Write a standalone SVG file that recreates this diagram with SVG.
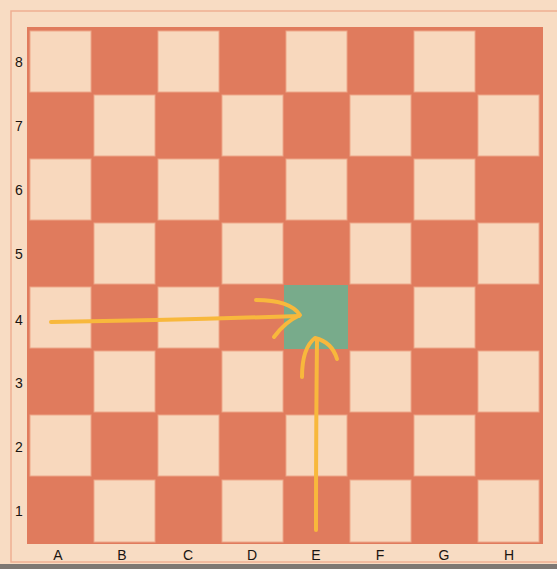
<svg xmlns="http://www.w3.org/2000/svg" width="557" height="569" viewBox="0 0 557 569">
<style>
.l{fill:#f8d8bd;stroke:#eda88a;stroke-width:1}
.lbl{font-family:"Liberation Sans",Arial,sans-serif;font-size:14px;fill:#1a1410;text-anchor:middle}
.arr{fill:none;stroke:#f8b83c;stroke-width:4;stroke-linecap:round;stroke-linejoin:round}
</style>
<rect width="557" height="569" fill="#f8dcc3"/>
<rect x="0" y="564" width="557" height="5" fill="#7e7873"/>
<path d="M557 11 H11 V562 H557" fill="none" stroke="#eeaf92" stroke-width="1.5"/>
<g id="board">
<rect x="27" y="27" width="516" height="517" fill="#e07b5d"/>
<g id="light-squares">
<rect class="l" x="30" y="31" width="61" height="61"/>
<rect class="l" x="158" y="31" width="61" height="61"/>
<rect class="l" x="286" y="31" width="61" height="61"/>
<rect class="l" x="414" y="31" width="61" height="61"/>
<rect class="l" x="94" y="95" width="61" height="61"/>
<rect class="l" x="222" y="95" width="61" height="61"/>
<rect class="l" x="350" y="95" width="61" height="61"/>
<rect class="l" x="478" y="95" width="61" height="61"/>
<rect class="l" x="30" y="159" width="61" height="61"/>
<rect class="l" x="158" y="159" width="61" height="61"/>
<rect class="l" x="286" y="159" width="61" height="61"/>
<rect class="l" x="414" y="159" width="61" height="61"/>
<rect class="l" x="94" y="223" width="61" height="61"/>
<rect class="l" x="222" y="223" width="61" height="61"/>
<rect class="l" x="350" y="223" width="61" height="61"/>
<rect class="l" x="478" y="223" width="61" height="61"/>
<rect class="l" x="30" y="287" width="61" height="61"/>
<rect class="l" x="158" y="287" width="61" height="61"/>
<rect class="l" x="414" y="287" width="61" height="61"/>
<rect class="l" x="94" y="351" width="61" height="61"/>
<rect class="l" x="222" y="351" width="61" height="61"/>
<rect class="l" x="350" y="351" width="61" height="61"/>
<rect class="l" x="478" y="351" width="61" height="61"/>
<rect class="l" x="30" y="415" width="61" height="61"/>
<rect class="l" x="158" y="415" width="61" height="61"/>
<rect class="l" x="286" y="415" width="61" height="61"/>
<rect class="l" x="414" y="415" width="61" height="61"/>
<rect class="l" x="94" y="480" width="61" height="62"/>
<rect class="l" x="222" y="480" width="61" height="62"/>
<rect class="l" x="350" y="480" width="61" height="62"/>
<rect class="l" x="478" y="480" width="61" height="62"/>
</g>
</g>
<g id="e4">
<rect x="284" y="285" width="64" height="64" fill="#78ab8b"/>
</g>
<g id="ranks">
<text class="lbl" x="19" y="67">8</text>
<text class="lbl" x="19" y="131">7</text>
<text class="lbl" x="19" y="195">6</text>
<text class="lbl" x="19" y="259">5</text>
<text class="lbl" x="19" y="325">4</text>
<text class="lbl" x="19" y="388">3</text>
<text class="lbl" x="19" y="452">2</text>
<text class="lbl" x="19" y="516">1</text>
</g>
<g id="files">
<text class="lbl" x="58" y="560">A</text>
<text class="lbl" x="122" y="560">B</text>
<text class="lbl" x="188" y="560">C</text>
<text class="lbl" x="252" y="560">D</text>
<text class="lbl" x="316" y="560">E</text>
<text class="lbl" x="380" y="560">F</text>
<text class="lbl" x="444" y="560">G</text>
<text class="lbl" x="509" y="560">H</text>
</g>
<g id="connectors">
<path class="arr" d="M51 322 Q180 320 299 316"/>
<path class="arr" d="M256 300 Q290 300 300 315 Q285 322 274 337"/>
<path class="arr" d="M316 530 Q316 430 317 340"/>
<path class="arr" d="M302 377 Q302 348 315 338 Q332 342 337 359"/>
</g>
</svg>
